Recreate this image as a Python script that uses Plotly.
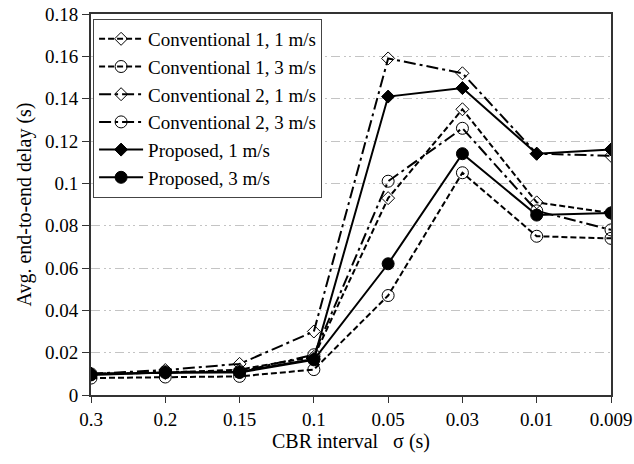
import plotly.graph_objects as go

categories = ["0.3", "0.2", "0.15", "0.1", "0.05", "0.03", "0.01", "0.009"]
conv1_1ms = [0.010, 0.0105, 0.012, 0.018, 0.093, 0.135, 0.091, 0.086]
conv1_3ms = [0.008, 0.0085, 0.0088, 0.012, 0.047, 0.105, 0.075, 0.074]
conv2_1ms = [0.010, 0.0118, 0.0147, 0.030, 0.159, 0.152, 0.114, 0.113]
conv2_3ms = [0.0100, 0.011, 0.011, 0.019, 0.101, 0.126, 0.087, 0.078]
prop_1ms = [0.010, 0.0105, 0.011, 0.017, 0.141, 0.145, 0.114, 0.116]
prop_3ms = [0.0095, 0.0106, 0.0106, 0.0166, 0.062, 0.114, 0.085, 0.086]
y_ticks = [0, 0.02, 0.04, 0.06, 0.08, 0.1, 0.12, 0.14, 0.16, 0.18]
y_tick_labels = ["0", "0.02", "0.04", "0.06", "0.08", "0.1", "0.12", "0.14", "0.16", "0.18"]

x = list(range(len(categories)))
FONT = "Liberation Serif, Times New Roman, serif"

series = [
    ("Conventional 1, 1 m/s", conv1_1ms, "6px,3px", "diamond-open", 10),
    ("Conventional 1, 3 m/s", conv1_3ms, "6px,3px", "circle-open", 12),
    ("Conventional 2, 1 m/s", conv2_1ms, "12px,4px,3px,4px", "diamond-open", 10),
    ("Conventional 2, 3 m/s", conv2_3ms, "12px,4px,3px,4px", "circle-open", 12),
    ("Proposed, 1 m/s", prop_1ms, "solid", "diamond", 10),
    ("Proposed, 3 m/s", prop_3ms, "solid", "circle", 12),
]

fig = go.Figure()
for name, vals, dash, sym, size in series:
    fig.add_trace(go.Scatter(
        x=x, y=vals, name=name, mode="lines+markers",
        line=dict(color="black", width=2, dash=dash),
        marker=dict(symbol=sym, size=size, color="black",
                    line=dict(color="black", width=1)),
    ))

fig.update_layout(
    width=634, height=464,
    margin=dict(l=91, r=23, t=14, b=69, autoexpand=False),
    paper_bgcolor="white", plot_bgcolor="white",
    font=dict(family=FONT, size=19, color="black"),
    showlegend=True,
    legend=dict(x=0.004, y=0.987, xanchor="left", yanchor="top",
                bgcolor="white", bordercolor="#444", borderwidth=1,
                font=dict(family=FONT, size=19), itemwidth=44,
                tracegroupgap=0),
)
fig.update_xaxes(
    range=[0, 7], tickmode="array", tickvals=x, ticktext=categories,
    showgrid=False, zeroline=False, automargin=False,
    showline=True, linecolor="#333", linewidth=2, mirror=True,
    ticks="outside", ticklen=6, tickcolor="#333", ticklabeloverflow="allow",
    title=dict(text="CBR interval \u00a0\u00a0σ (s)", font=dict(size=20), standoff=4),
    tickfont=dict(size=19),
)
fig.update_yaxes(
    range=[0, 0.18], tickmode="array", tickvals=y_ticks, ticktext=y_tick_labels,
    showgrid=True, gridcolor="#c4c4c4", gridwidth=1, griddash="9px,4px,2px,3px,2px,4px",
    zeroline=False, automargin=False,
    showline=True, linecolor="#333", linewidth=2, mirror=True,
    ticks="outside", ticklen=7, tickcolor="#333", ticklabeloverflow="allow",
    title=dict(text="Avg. end-to-end delay (s)", font=dict(size=20), standoff=8),
    tickfont=dict(size=19),
)

fig.write_html("out.html", config={"displayModeBar": False},
               post_script="document.body.style.margin='0';")
